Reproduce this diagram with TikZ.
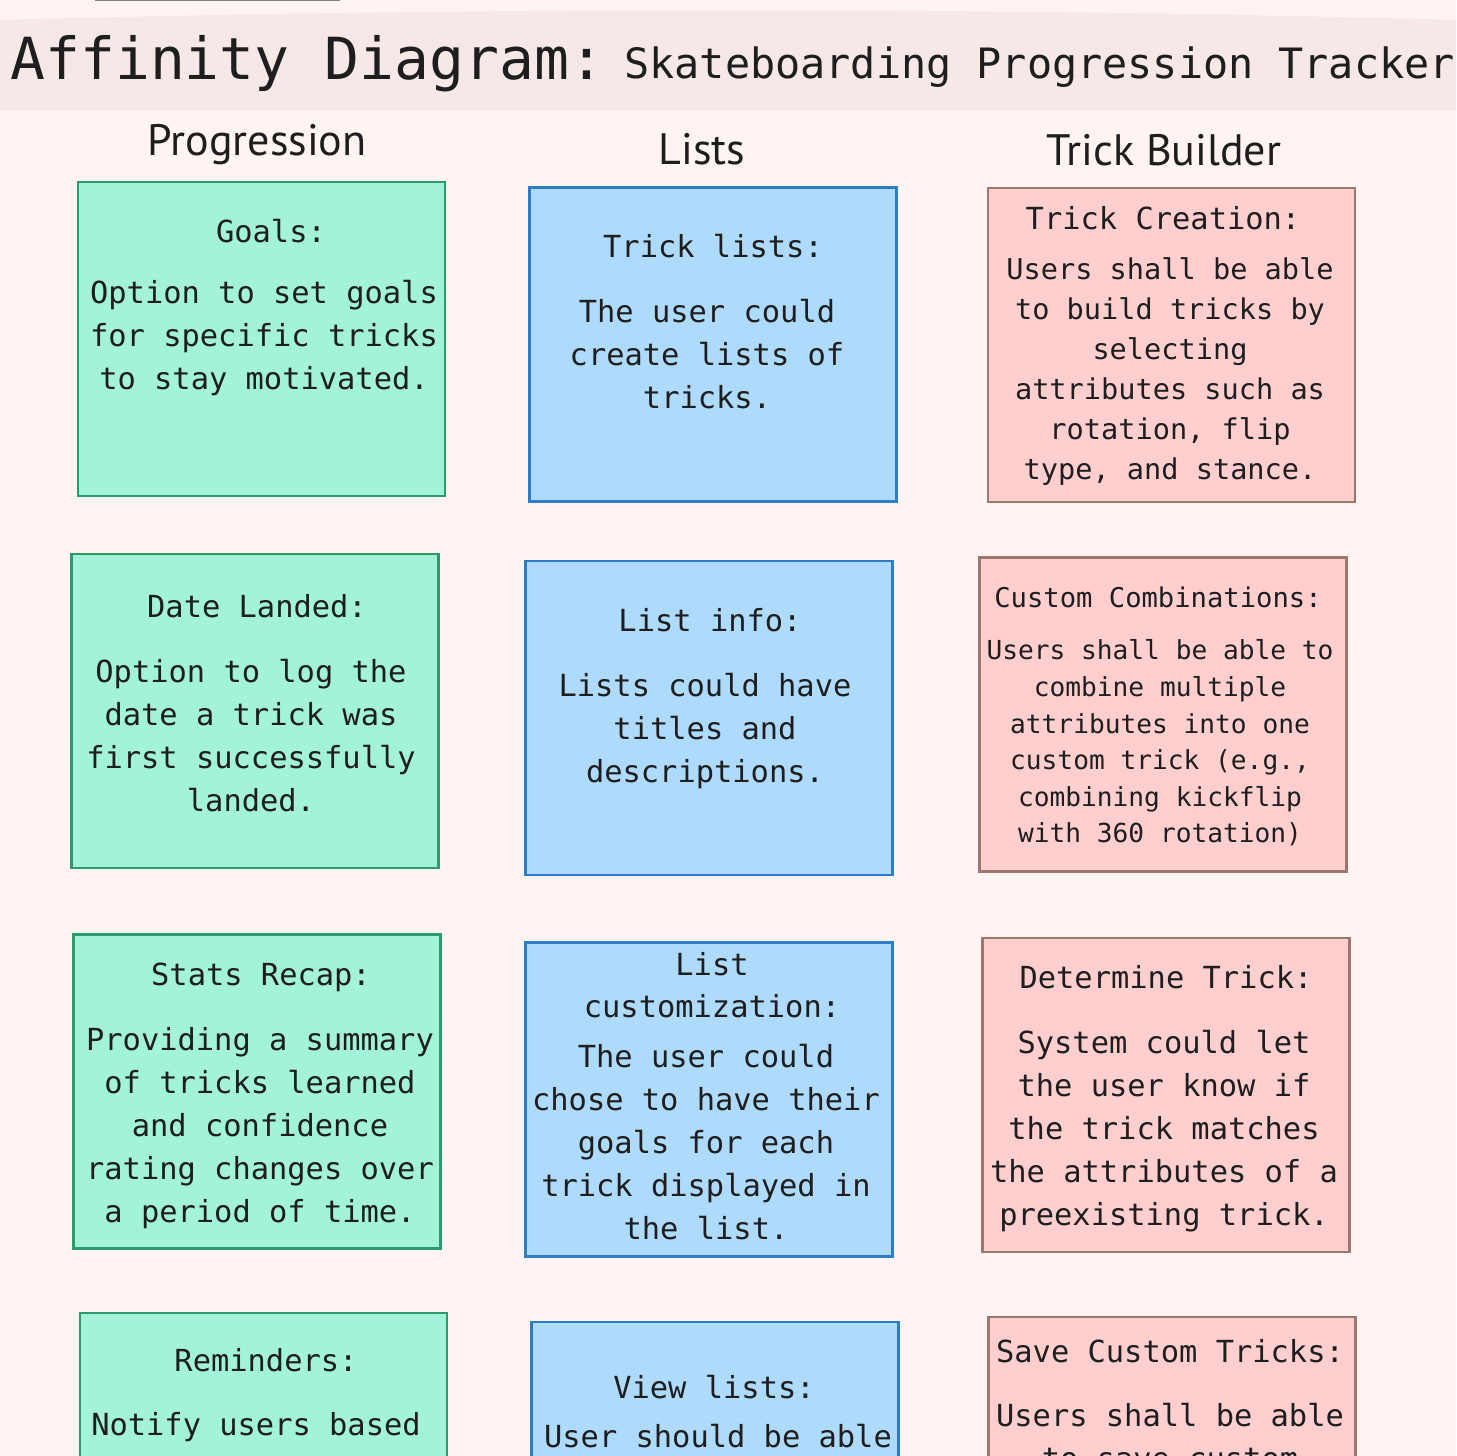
\documentclass[tikz,border=0pt]{standalone}
\usepackage{fontspec}
\setmonofont{DejaVu Sans Mono}
\newfontfamily\hdfont{PT Sans}
\definecolor{bgpink}{HTML}{FFF4F2}
\definecolor{bandpink}{HTML}{F5E8E7}
\definecolor{progfill}{HTML}{A3F3D9}
\definecolor{progline}{HTML}{2B9A6C}
\definecolor{listfill}{HTML}{AEDAFC}
\definecolor{listline}{HTML}{2E7BC6}
\definecolor{trickfill}{HTML}{FFCFCF}
\definecolor{trickline}{HTML}{9B776F}
\definecolor{ink}{HTML}{1E1E1E}
\newcommand{\ls}{\rule[-0.24em]{0pt}{1.14em}}
\begin{document}
\begin{tikzpicture}[x=0.5pt, y=-0.5pt,
        card/.style={rectangle, draw, line width=1.2pt, minimum width=183.5pt, minimum height=157pt, inner sep=0pt},
        prog/.style={card, fill=progfill, draw=progline},
        lst/.style={card, fill=listfill, draw=listline},
        trk/.style={card, fill=trickfill, draw=trickline},
        ttl/.style={align=center, inner sep=0pt, text=ink, font=\ttfamily\fontsize{15.2pt}{21pt}\selectfont, execute at begin node=\ls, execute at end node=\ls},
        body/.style={align=center, inner sep=0pt, yshift=-2pt, text=ink, font=\ttfamily\fontsize{15.2pt}{21.5pt}\selectfont, execute at begin node=\ls, execute at end node=\ls},
        header/.style={inner sep=0pt, text=ink, font=\hdfont\fontsize{22pt}{26pt}\selectfont}
    ]
        \useasboundingbox (0,0) rectangle (1456,1456);
        \fill[bgpink] (0,0) rectangle (1456,1456);

        % title band
        \fill[bandpink] (0,20) .. controls (480,7) and (980,7) .. (1456,20) -- (1456,110) -- (0,110) -- cycle;
        \draw[gray, line width=0.7pt] (95,0.6) -- (340,0.6);
        \node[anchor=base west, inner sep=0pt, text=ink, font=\ttfamily\fontsize{29pt}{34pt}\selectfont] (title) at (10,79) {Affinity Diagram:};
        \node[anchor=base west, inner sep=0pt, text=ink, font=\ttfamily\fontsize{20.9pt}{25pt}\selectfont] (subtitle) at (624,78) {Skateboarding Progression Tracker};

        % column headers
        \node[header] (hprog) at (257,145) {Progression};
        \node[header] (hlist) at (702,149) {Lists};
        \node[header] (htrick) at (1164,150) {Trick Builder};

        % Progression
        \node[prog] (goals) at (261.5,339) {};
        \node[prog] (landed) at (255,711) {};
        \node[prog] (recap) at (257,1091.5) {};
        \node[prog] (remind) at (263.5,1470) {};

        \node[ttl] (goalsT) at (271,232) {Goals:};
        \node[body] (goalsB) at (264,335) {Option to set goals\\for specific tricks\\to stay motivated.};
        \node[ttl] (landedT) at (257,607) {Date Landed:};
        \node[body] (landedB) at (251,735.5) {Option to log the\\date a trick was\\first successfully\\landed.};
        \node[ttl] (recapT) at (261,975) {Stats Recap:};
        \node[body] (recapB) at (260,1125) {Providing a summary\\of tricks learned\\and confidence\\rating changes over\\a period of time.};
        \node[ttl] (remindT) at (266,1361) {Reminders:};
        \node[body] (remindB) at (256,1421) {Notify users based};

        % Lists
        \node[lst] (tlists) at (713,344.5) {};
        \node[lst] (linfo) at (709,718) {};
        \node[lst] (lcust) at (709,1099.5) {};
        \node[lst] (vlists) at (715,1479) {};

        \node[ttl] (tlistsT) at (713,247) {Trick lists:};
        \node[body] (tlistsB) at (707,354) {The user could\\create lists of\\tricks.};
        \node[ttl] (linfoT) at (710,621) {List info:};
        \node[body] (linfoB) at (705,727.5) {Lists could have\\titles and\\descriptions.};
        \node[ttl] (lcustT) at (712,989) {List\\customization:};
        \node[body] (lcustB) at (706,1142) {The user could\\chose to have their\\goals for each\\trick displayed in\\the list.};
        \node[ttl] (vlistsT) at (714,1388) {View lists:};
        \node[body] (vlistsB) at (718,1433) {User should be able};

        % Trick Builder
        \node[trk] (tcreate) at (1171.5,345) {};
        \node[trk] (ccomb) at (1163,714.5) {};
        \node[trk] (determ) at (1166,1095) {};
        \node[trk] (save) at (1172,1474) {};

        \node[ttl] (tcreateT) at (1163,219) {Trick Creation:};
        \node[body, font=\ttfamily\fontsize{14.3pt}{20pt}\selectfont] (tcreateB) at (1170,368) {Users shall be able\\to build tricks by\\selecting\\attributes such as\\rotation, flip\\type, and stance.};
        \node[ttl, font=\ttfamily\fontsize{13.6pt}{18pt}\selectfont] (ccombT) at (1158,599) {Custom Combinations:};
        \node[body, font=\ttfamily\fontsize{13.1pt}{18.3pt}\selectfont] (ccombB) at (1160,740.5) {Users shall be able to\\combine multiple\\attributes into one\\custom trick (e.g.,\\combining kickflip\\with 360 rotation)};
        \node[ttl] (determT) at (1166,978) {Determine Trick:};
        \node[body] (determB) at (1164,1127.5) {System could let\\the user know if\\the trick matches\\the attributes of a\\preexisting trick.};
        \node[ttl] (saveT) at (1170,1352) {Save Custom Tricks:};
        \node[body] (saveB) at (1170,1436) {Users shall be able\\to save custom};
    \end{tikzpicture}
\end{document}
